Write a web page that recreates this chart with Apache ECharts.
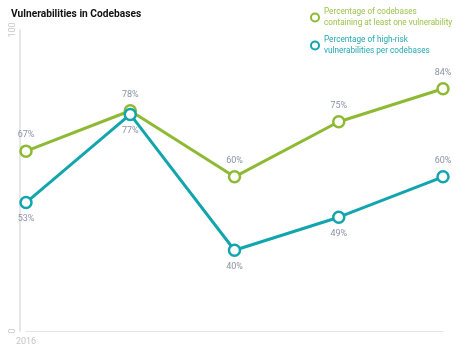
<!DOCTYPE html>
<html><head><meta charset="utf-8">
<script src="https://cdn.jsdelivr.net/npm/echarts@6/dist/echarts.min.js"></script>
<style>html,body{margin:0;padding:0;background:#fff}#c{width:474px;height:358px}</style>
</head><body><div id="c"></div>
<script>
const years = ['2016', '2017', '2018', '2019', '2020'];
const atLeastOne = [67, 78, 60, 75, 84];
const highRisk = [53, 77, 40, 49, 60];
const highRiskLabelPos = ['bottom', 'bottom', 'bottom', 'bottom', 'top'];
const seriesNames = ['Percentage of codebases\ncontaining at least one vulnerability', 'Percentage of high-risk\nvulnerabilities per codebases'];
const yTickLabels = ['0', '100'];

const green = '#8dba32';
const teal = '#12a5ad';
const chart = echarts.init(document.getElementById('c'));
chart.setOption({
  animation: false,
  title: { text: 'Vulnerabilities in Codebases', left: 6, top: 4,
    textStyle: { fontFamily: 'Roboto', fontSize: 10.2, fontWeight: 'bold', color: '#111' } },
  legend: {
    orient: 'vertical', left: 305, top: 2, itemGap: 7, itemWidth: 8, itemHeight: 8,
    icon: 'circle',
    textStyle: { fontFamily: 'Roboto', fontSize: 8.2, lineHeight: 10.5 },
    data: [
      { name: seriesNames[0], itemStyle: { color: '#fff', borderColor: green, borderWidth: 2 }, textStyle: { color: '#9cc34c' } },
      { name: seriesNames[1], itemStyle: { color: '#fff', borderColor: teal, borderWidth: 2 }, textStyle: { color: '#22a9b1' } }
    ]
  },
  grid: { left: 26, right: 31, top: 30, bottom: 27 },
  xAxis: {
    type: 'category', data: years, boundaryGap: false,
    axisLine: { lineStyle: { color: '#e6e6e6', width: 1 } },
    axisTick: { show: false },
    axisLabel: { interval: (i) => i === 0, color: '#c4c4c4', fontFamily: 'Roboto', fontSize: 9, margin: 6 }
  },
  yAxis: {
    type: 'value', min: 18, max: 100, offset: 6,
    axisLine: { show: true, lineStyle: { color: '#e8e8e8', width: 2 } },
    axisTick: { show: false },
    splitLine: { show: false },
    axisLabel: { customValues: [18, 100], rotate: 90, margin: 3, color: '#c8c8c8', fontFamily: 'Roboto', fontSize: 9,
      formatter: (v) => v >= 100 ? yTickLabels[1] : yTickLabels[0] }
  },
  series: [
    { name: seriesNames[0], type: 'line', data: atLeastOne, color: green,
      symbol: 'circle', symbolSize: 11,
      lineStyle: { width: 3, color: green },
      itemStyle: { color: '#fff', borderColor: green, borderWidth: 2.5 },
      label: { show: true, position: 'top', distance: 5, formatter: '{c}%', color: '#8a93a3', fontFamily: 'Roboto', fontSize: 9 } },
    { name: seriesNames[1], type: 'line', color: teal,
      data: highRisk.map((v, i) => ({ value: v, label: { position: highRiskLabelPos[i] } })),
      symbol: 'circle', symbolSize: 11,
      lineStyle: { width: 3, color: teal },
      itemStyle: { color: '#fff', borderColor: teal, borderWidth: 2.5 },
      label: { show: true, distance: 5, formatter: '{c}%', color: '#8a93a3', fontFamily: 'Roboto', fontSize: 9 } }
  ]
});
</script></body></html>
